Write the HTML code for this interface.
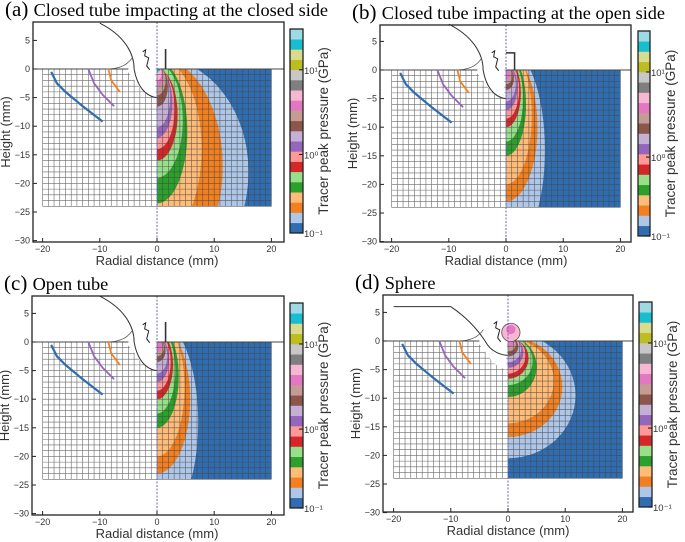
<!DOCTYPE html>
<html><head><meta charset="utf-8">
<style>
html,body{margin:0;padding:0;background:#fff;}
svg{display:block;}
</style></head>
<body>
<svg id="fig" width="685" height="542" viewBox="0 0 685 542" xmlns="http://www.w3.org/2000/svg"></svg>
<script>
// ---- data ----
const levelColors = ["#2f6db0","#aec7e8","#f28020","#ffbb78","#2ca02c","#98df8a","#d62728","#ff9896","#9467bd","#c5b0d5","#8c564b","#c49c94","#e377c2","#f7b6d2","#7f7f7f","#c7c7c7","#bcbd22","#dbdb8d","#17becf","#9edae5"];
const xTicks = [-20,-10,0,10,20];
const yTicks = [5,0,-5,-10,-15,-20,-25,-30];
const cbTickLabels = ["10\u207B\u00B9","10\u2070","10\u00B9"];
const cbTickFrac = [0,0.385,0.8];
// contours: [level, centerY(mm), rx(mm), ry(mm)]
const contoursA = [[1,-18,16,20],[2,-17,11.5,19],[3,-14,7.8,16],[4,-11,5.3,12.5],[5,-9,4.5,10],[6,-8,3.6,8],[7,-7,3.1,7],[8,-6,2.7,6],[9,-5,2.3,5.2],[10,-3,1.9,3.6],[11,-2,1.5,2.6],[12,-1.3,1.1,1.8],[13,-0.8,0.8,1.2],[18,0,0.6,0.5]];
const contoursB = [[1,-14,6.8,18],[2,-10,5.5,13],[3,-8,4.5,12],[4,-6,3.5,9],[5,-5,3,7.5],[6,-4,2.6,6],[7,-3.5,2.3,5],[8,-3,2,4],[9,-2.5,1.7,3],[10,-1.5,1.4,2],[11,-1,1.1,1.5],[12,-0.6,0.8,1.2]];
const contoursC = [[1,-14,7.2,18],[2,-10,5.8,13],[3,-8,4.8,12],[4,-6,3.8,9],[5,-5,3.2,7.5],[6,-4,2.8,6],[7,-3.5,2.4,5],[8,-3,2.1,4],[9,-2.5,1.8,3],[10,-1.5,1.5,2],[11,-1,1.2,1.5],[12,-0.6,0.9,1.2]];
const contoursD = [[1,-9.5,11.8,11],[2,-8,9.5,8.8],[3,-7,8,7.4],[4,-4.5,5,5.3],[5,-3.5,4.3,4.2],[6,-3,3.6,3.6],[7,-2.5,3.1,3.2],[8,-2,2.7,2.7],[9,-1.5,2.3,2.2],[10,-1,1.8,1.7],[11,-0.6,1.4,1.2],[12,-0.3,1,0.8]];
// left-side tracer curves: x,y pairs (mm)
const blueCurve = [[-18.5,-0.5],[-17.5,-2.5],[-16,-4],[-13,-6.5],[-9.5,-9.2]];
const purpleCurve = [[-12,0],[-11,-2.5],[-9.5,-4.5],[-7.5,-6.5]];
const orangeCurve = [[-8.5,0],[-8,-2],[-6.5,-4]];

const panels = [
 {id:"a",title:"Closed tube impacting at the closed side",ox:157,oy:69,box:[33,22,284,242],cb:[290,29,303,233],cont:contoursA,top:"bar"},
 {id:"b",title:"Closed tube impacting at the open side",ox:506,oy:70,box:[380,25,631,242],cb:[638,31,650,236],cont:contoursB,top:"rect"},
 {id:"c",title:"Open tube",ox:157,oy:342,box:[32,296,284,515],cb:[290,303,303,508],cont:contoursC,top:"bar"},
 {id:"d",title:"Sphere",ox:508,oy:341,box:[383,295,633,512],cb:[639,302,652,507],cont:contoursD,top:"sphere"}
];
const S = 5.72;
const NS="http://www.w3.org/2000/svg";
const svg=document.getElementById('fig');
function el(tag,attrs,parent){const e=document.createElementNS(NS,tag);for(const k in attrs)e.setAttribute(k,attrs[k]);(parent||svg).appendChild(e);return e;}

panels.forEach(p=>{
  const X=v=>p.ox+v*S, Y=v=>p.oy-v*S;
  const g=el('g',{});
  
  
  // title
  const t=el('text',{x:p.box[0]-28,y:p.box[1]-6,'font-family':'Liberation Serif, serif','font-size':'18.3'},g);
  
  
  const t1=el('tspan',{'font-size':'21'},t); t1.textContent='('+p.id+') ';
  const t2=el('tspan',{},t); t2.textContent=p.title;
  // clip
  const defs=el('defs',{},g);
  const cp=el('clipPath',{id:'clip'+p.id},defs);
  el('rect',{x:X(0),y:Y(0),width:20*S,height:24*S},cp);
  // contour region
  const cg=el('g',{'clip-path':'url(#clip'+p.id+')'},g);
  
  
  el('rect',{x:X(0),y:Y(0),width:20*S,height:24*S,fill:levelColors[0]},cg);
  p.cont.forEach(c=>{
    const e=el('ellipse',{cx:X(0),cy:Y(c[1]),rx:c[2]*S,ry:c[3]*S,fill:levelColors[c[0]]},cg);
    
    
  });
  // grid
  const gg=el('g',{stroke:'#444','stroke-width':'0.6',opacity:'0.8'},g);
  
  
  for(let i=-20;i<=20;i++) el('line',{x1:X(i),y1:Y(0),x2:X(i),y2:Y(-24)},gg);
  for(let j=0;j>=-24;j--) el('line',{x1:X(-20),y1:Y(j),x2:X(20),y2:Y(j)},gg);
  // crater white area left
  const cr=el('path',{d:`M${X(-6)},${Y(0.2)} C${X(-4)},${Y(-1)} ${X(-3)},${Y(-4.5)} ${X(-0.3)},${Y(-5)} L${X(-0.3)},${Y(0.2)} Z`,fill:'#fff'},g);
  
  
  if(p.id==='d') el('path',{d:`M${X(-4)},${Y(0.2)} C${X(-3)},${Y(-2)} ${X(-1)},${Y(-2.5)} ${X(-0.2)},${Y(-2.5)} L${X(-0.2)},${Y(0.2)} Z`,fill:'#fff'},g);
  // projectile outline
  const po = p.id==='d' ? `M${X(-20)},${Y(6)} L${X(-10)},${Y(6)} C${X(-7)},${Y(4)} ${X(-5)},${Y(1.5)} ${X(-4)},${Y(0)} C${X(-3)},${Y(-2)} ${X(-1)},${Y(-2.5)} ${X(0)},${Y(-2.5)}`
    : `M${X(-10)},${Y(8)} C${X(-6)},${Y(6)} ${X(-4)},${Y(3)} ${X(-4)},${Y(0)} C${X(-3.5)},${Y(-3)} ${X(-2)},${Y(-4.8)} ${X(0)},${Y(-5)}`;
  const pl=el('path',{d:po,fill:'none',stroke:'#333','stroke-width':'1'},g);
  
  
  el('path',{d:`M${X(-2.5)},${Y(3)} l3,-2 l-1,6 l4,2 l-2,8 l3,4`,fill:'none',stroke:'#222','stroke-width':'1'},g);
  // surface line
  el('line',{x1:p.box[0],y1:Y(0),x2:X(-5),y2:Y(0),stroke:'#444','stroke-width':'1'},g);
  el('line',{x1:X(0),y1:Y(0),x2:p.box[2],y2:Y(0),stroke:'#444','stroke-width':'1'},g);
  el('path',{d:`M${X(-9)},${Y(0)} C${X(-6)},${Y(0)} ${X(-5)},${Y(1)} ${X(-4.3)},${Y(2)}`,fill:'none',stroke:'#555','stroke-width':'0.8'},g);
  // tracer curves
  [[blueCurve,'#2f6db0','blue'],[purpleCurve,'#9467bd','purple'],[orangeCurve,'#f28020','orange']].forEach(([arr,col,nm])=>{
    const pth=el('polyline',{points:arr.map(q=>X(q[0])+','+Y(q[1])).join(' '),fill:'none',stroke:col,'stroke-width':nm==='blue'?2.2:1.8},g);
    
    
  });
  // top objects
  if(p.top==='bar') el('line',{x1:X(1.5),y1:Y(0),x2:X(1.5),y2:Y(3.5),stroke:'#333','stroke-width':'1.6'},g);
  if(p.top==='rect') el('path',{d:`M${X(0)},${Y(3)} H${X(1.5)} V${Y(0)}`,fill:'none',stroke:'#333','stroke-width':'1.5'},g);
  if(p.top==='sphere'){el('circle',{cx:X(0.5),cy:Y(1.5),r:1.6*S,fill:'#f7b6d2',stroke:'#555','stroke-width':'0.8'},g);el('circle',{cx:X(0.5),cy:Y(2),r:0.8*S,fill:'#e377c2'},g);}
  // dashed center line
  const dl=el('line',{x1:X(0),y1:p.box[1],x2:X(0),y2:p.box[3],stroke:'#6a6ab8','stroke-width':'1','stroke-dasharray':'2,1.5'},g);
  
  
  // box
  el('rect',{x:p.box[0],y:p.box[1],width:p.box[2]-p.box[0],height:p.box[3]-p.box[1],fill:'none',stroke:'#222','stroke-width':'1.3'},g);
  // ticks
  xTicks.forEach(v=>{
    el('line',{x1:X(v),y1:p.box[3],x2:X(v),y2:p.box[3]-4,stroke:'#222'},g);
    const tx=el('text',{x:X(v),y:p.box[3]+10,'text-anchor':'middle','font-family':'Liberation Sans, sans-serif','font-size':'9',fill:'#333'},g);
    
    
    tx.textContent=v<0?'\u2212'+(-v):v;
  });
  yTicks.forEach(v=>{
    el('line',{x1:p.box[0],y1:Y(v),x2:p.box[0]+4,y2:Y(v),stroke:'#222'},g);
    const ty=el('text',{x:p.box[0]-3,y:Y(v)+3,'text-anchor':'end','font-family':'Liberation Sans, sans-serif','font-size':'9',fill:'#333'},g);
    
    
    ty.textContent=v<0?'\u2212'+(-v):v;
  });
  const xl=el('text',{x:X(0),y:p.box[3]+23,'text-anchor':'middle','font-family':'Liberation Sans, sans-serif','font-size':'13',fill:'#333'},g);
  
  
  xl.textContent='Radial distance (mm)';
  const ycx=p.box[0]-23, ycy=(p.box[1]+p.box[3])/2;
  const yl=el('text',{x:ycx,y:ycy,'text-anchor':'middle','font-family':'Liberation Sans, sans-serif','font-size':'13',fill:'#333',transform:`rotate(-90 ${ycx} ${ycy})`},g);
  
  
  yl.textContent='Height (mm)';
  // colorbar
  const cbg=el('g',{},g);
  
  
  const [cx0,cy0,cx1,cy1]=p.cb, h=(cy1-cy0)/levelColors.length;
  levelColors.forEach((c,i)=>{el('rect',{x:cx0,y:cy1-(i+1)*h,width:cx1-cx0,height:h+0.3,fill:c},cbg);});
  el('rect',{x:cx0,y:cy0,width:cx1-cx0,height:cy1-cy0,fill:'none',stroke:'#222','stroke-width':'1.3'},cbg);
  cbTickLabels.forEach((lab,i)=>{
    const yy=cy1-cbTickFrac[i]*(cy1-cy0);
    el('line',{x1:cx1-4,y1:yy,x2:cx1,y2:yy,stroke:'#111'},cbg);
    const tl=el('text',{x:cx1+1,y:yy+4,'font-family':'Liberation Sans, sans-serif','font-size':'9.5',fill:'#333'},cbg);
    
    
    tl.textContent=lab;
  });
  const lx=cx1+25, ly=(cy0+cy1)/2;
  const cl=el('text',{x:lx,y:ly,'text-anchor':'middle','font-family':'Liberation Sans, sans-serif','font-size':'13.5',fill:'#333',transform:`rotate(-90 ${lx} ${ly})`},cbg);
  
  
  cl.textContent='Tracer peak pressure (GPa)';
});
</script>
</body></html>
